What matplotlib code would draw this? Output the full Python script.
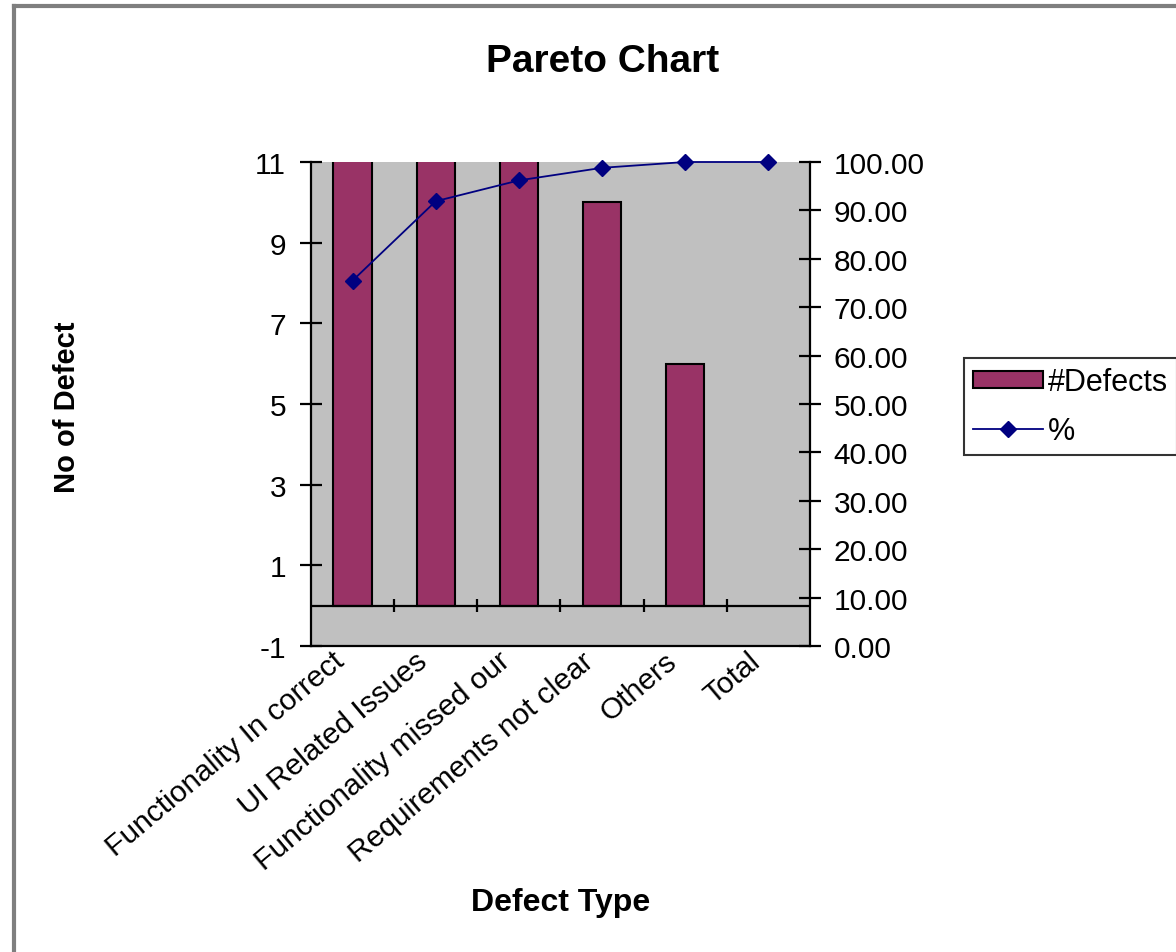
import matplotlib.pyplot as plt
import matplotlib.transforms as mtransforms
import numpy as np
from matplotlib.lines import Line2D
from matplotlib.ticker import FormatStrFormatter

plt.rcParams['font.family'] = ['Liberation Sans', 'DejaVu Sans']
plt.rcParams['axes.unicode_minus'] = False

# data (first three bars run past the top of the axis)
defect_types = ["Functionality In correct", "UI Related Issues", "Functionality missed our",
                "Requirements not clear", "Others", "Total"]
defects = [347, 75, 20, 10, 6]          # Total has no bar
cum_pct = [75.5, 91.9, 96.2, 98.8, 100.0, 100.0]

bar_color = "#993366"
line_color = "#000080"

W, H = 1176, 953
fig = plt.figure(figsize=(W / 100, H / 100), dpi=100)

# plot area in pixels: x 311..810, y 163..647
ax = fig.add_axes([311 / W, 1 - 647 / H, (810 - 311) / W, (647 - 163) / H])
ax.set_facecolor("#C0C0C0")
x = np.arange(len(defect_types))
ax.bar(x[:len(defects)], defects, width=0.46, color=bar_color, edgecolor="black", linewidth=1.5, zorder=3)
ax.set_xlim(-0.5, len(defect_types) - 0.5)
ax.set_ylim(-1, 11)
ax.set_yticks(np.arange(-1, 12, 2))

# category axis crossing at zero, with tick marks between categories
ax.axhline(0, color="black", lw=1.6, zorder=4)
ax.vlines(x[:-1] + 0.5, -0.16, 0.16, color="black", lw=1.6, zorder=4)

ax.set_xticks(x)
ax.set_xticklabels(defect_types, rotation=40, ha="right", va="center", rotation_mode="anchor")
ax.tick_params(axis="x", length=0, pad=8, labelsize=21.5)
ax.tick_params(axis="y", direction="inout", length=16, width=1.6, labelsize=21.5, pad=10)
# nudge the slanted labels left so they end just left of the category centre
shift = mtransforms.ScaledTranslation(-0.12, 0, fig.dpi_scale_trans)
for lab in ax.get_xticklabels():
    lab.set_transform(lab.get_transform() + shift)
for s in ["left", "bottom"]:
    ax.spines[s].set_linewidth(1.6)
ax.spines["top"].set_visible(False)
ax.spines["right"].set_visible(False)

ax2 = ax.twinx()
ax2.plot(x, cum_pct, color=line_color, lw=1.3, marker="D", markersize=8.5, zorder=5, clip_on=False)
ax2.set_ylim(0, 100)
ax2.set_yticks(np.arange(0, 101, 10))
ax2.yaxis.set_major_formatter(FormatStrFormatter("%.2f"))
ax2.tick_params(axis="y", direction="inout", length=16, width=1.6, labelsize=21.5, pad=9)
ax2.spines["right"].set_linewidth(1.6)
for s in ["left", "top", "bottom"]:
    ax2.spines[s].set_visible(False)

fig.text(603 / W, 1 - 62 / H, "Pareto Chart", ha="center", va="center", fontsize=28, fontweight="bold")
fig.text(67 / W, 1 - 407 / H, "No of Defect", ha="center", va="center", rotation=90,
         fontsize=21, fontweight="bold")
fig.text(561 / W, 1 - 903 / H, "Defect Type", ha="center", va="center", fontsize=23, fontweight="bold")

handles = [plt.Rectangle((0, 0), 1, 1, facecolor=bar_color, edgecolor="black", linewidth=1.5),
           Line2D([], [], color=line_color, lw=1.3, marker="D", markersize=8.5)]
leg = fig.legend(handles, ["#Defects", "%"], loc="upper left", bbox_to_anchor=(964 / W, 1 - 359 / H),
                 fontsize=22, frameon=True, fancybox=False, borderaxespad=0, borderpad=0.3,
                 handlelength=2.3, handleheight=0.5, handletextpad=0.15, labelspacing=0.6)
leg.get_frame().set_edgecolor("black")
leg.get_frame().set_linewidth(1.5)

# outer chart border (top and left edges visible)
fig.add_artist(Line2D([14 / W, 1], [1 - 7 / H, 1 - 7 / H], color="#7f7f7f", lw=3))
fig.add_artist(Line2D([14 / W, 14 / W], [1 - 7 / H, 0], color="#7f7f7f", lw=3))

fig.savefig("out.png", dpi=100)
